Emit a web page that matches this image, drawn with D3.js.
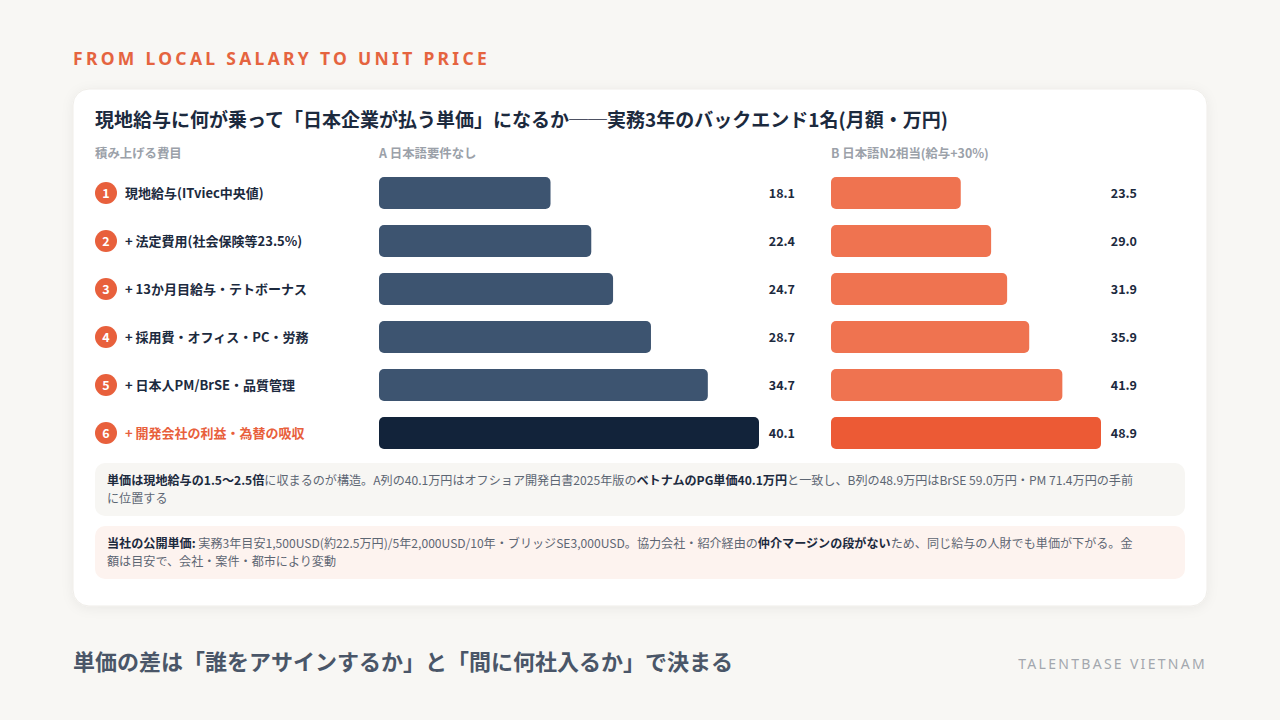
<!DOCTYPE html>
<html><head><meta charset="utf-8">
<script src="https://cdn.jsdelivr.net/npm/d3@7"></script>
<style>
html,body{margin:0;padding:0;background:#f8f7f4;}
svg{display:block;font-family:"Noto Sans CJK JP","Noto Sans",sans-serif;}
</style></head>
<body>
<svg id="chart" width="1280" height="720"></svg>
<script>
const categories = ["現地給与(ITviec中央値)","+ 法定費用(社会保険等23.5%)","+ 13か月目給与・テトボーナス","+ 採用費・オフィス・PC・労務","+ 日本人PM/BrSE・品質管理","+ 開発会社の利益・為替の吸収"];
const seriesA = [18.1, 22.4, 24.7, 28.7, 34.7, 40.1];
const seriesB = [23.5, 29.0, 31.9, 35.9, 41.9, 48.9];
const headers = ["積み上げる費目","A 日本語要件なし","B 日本語N2相当(給与+30%)"];

const svg = d3.select("#chart");
const navy = "#1c2a3e";

const defs = svg.append("defs");
const f = defs.append("filter").attr("id","sh").attr("x","-5%").attr("y","-5%").attr("width","110%").attr("height","115%");
f.append("feDropShadow").attr("dx",0).attr("dy",2).attr("stdDeviation",6).attr("flood-color","#000").attr("flood-opacity",0.06);

svg.append("text").attr("x",73).attr("y",65).attr("fill","#e5643f")
  .attr("font-size",17.5).attr("font-weight",700).attr("letter-spacing",3.3)
  .attr("font-family","'Noto Sans','Noto Sans CJK JP',sans-serif")
  .text("FROM LOCAL SALARY TO UNIT PRICE");

svg.append("rect").attr("x",73).attr("y",89).attr("width",1134).attr("height",517)
  .attr("rx",16).attr("fill","#fff").attr("stroke","#efede9").attr("filter","url(#sh)");

svg.append("text").attr("x",95).attr("y",127).attr("fill",navy).attr("font-size",19).attr("font-weight",700)
  .text("現地給与に何が乗って「日本企業が払う単価」になるか──実務3年のバックエンド1名(月額・万円)");

const hx = [95, 379, 831];
headers.forEach((h,i)=>{
  svg.append("text").attr("x",hx[i]).attr("y",158).attr("fill","#9ba1a9").attr("font-size",12.4).attr("font-weight",700).text(h);
});

const y = d3.scaleBand().domain(d3.range(categories.length)).range([169,457]).paddingInner(0.333).paddingOuter(0.1665);
const xA = d3.scaleLinear().domain([0, d3.max(seriesA)]).range([379, 759]);
const xB = d3.scaleLinear().domain([0, d3.max(seriesB)]).range([831, 1101]);
const last = categories.length-1;

const rows = svg.append("g").selectAll("g").data(categories).join("g");
rows.each(function(c,i){
  const g = d3.select(this);
  const cy = y(i) + y.bandwidth()/2;
  g.append("circle").attr("cx",106).attr("cy",cy).attr("r",11).attr("fill","#e8603c");
  g.append("text").attr("x",106).attr("y",cy+4.5).attr("text-anchor","middle").attr("fill","#fff")
    .attr("font-size",12.5).attr("font-weight",700).text(i+1);
  g.append("text").attr("x",125).attr("y",cy+4.5).attr("fill", i===last?"#e8603c":navy)
    .attr("font-size",13).attr("font-weight",700).text(c);
  g.append("rect").attr("x",xA(0)).attr("y",y(i)).attr("width",xA(seriesA[i])-xA(0)).attr("height",y.bandwidth())
    .attr("rx",5).attr("fill", i===last?"#12233a":"#3d5470");
  g.append("text").attr("x",795).attr("y",cy+4.5).attr("text-anchor","end").attr("fill",navy)
    .attr("font-size",12.5).attr("font-weight",700).text(seriesA[i].toFixed(1));
  g.append("rect").attr("x",xB(0)).attr("y",y(i)).attr("width",xB(seriesB[i])-xB(0)).attr("height",y.bandwidth())
    .attr("rx",5).attr("fill", i===last?"#ec5a35":"#ef7350");
  g.append("text").attr("x",1137).attr("y",cy+4.5).attr("text-anchor","end").attr("fill",navy)
    .attr("font-size",12.5).attr("font-weight",700).text(seriesB[i].toFixed(1));
});

const note1 = [
  [["単価は現地給与の1.5〜2.5倍",1],["に収まるのが構造。A列の40.1万円はオフショア開発白書2025年版の",0],["ベトナムのPG単価40.1万円",1],["と一致し、B列の48.9万円はBrSE 59.0万円・PM 71.4万円の手前",0]],
  [["に位置する",0]]
];
const note2 = [
  [["当社の公開単価: ",1],["実務3年目安1,500USD(約22.5万円)/5年2,000USD/10年・ブリッジSE3,000USD。協力会社・紹介経由の",0],["仲介マージンの段がない",1],["ため、同じ給与の人財でも単価が下がる。金",0]],
  [["額は目安で、会社・案件・都市により変動",0]]
];
function note(yTop, fill, lines){
  svg.append("rect").attr("x",95).attr("y",yTop).attr("width",1090).attr("height",53).attr("rx",10).attr("fill",fill);
  lines.forEach((ln,li)=>{
    const t = svg.append("text").attr("x",107).attr("y",yTop+21.5+li*18).attr("font-size",12.1);
    ln.forEach(([s,b])=>{
      t.append("tspan").text(s).attr("font-weight",b?700:400).attr("fill",b?navy:"#5d6673");
    });
  });
}
note(463,"#f7f6f3",note1);
note(526,"#fdf3ef",note2);

svg.append("text").attr("x",73).attr("y",670).attr("fill","#4a5668").attr("font-size",22).attr("font-weight",700)
  .text("単価の差は「誰をアサインするか」と「間に何社入るか」で決まる");
svg.append("text").attr("x",1207).attr("y",669).attr("text-anchor","end").attr("fill","#a3a7ae")
  .attr("font-size",14).attr("letter-spacing",2.3).attr("font-family","'Noto Sans',sans-serif").text("TALENTBASE VIETNAM");
</script>
</body></html>
